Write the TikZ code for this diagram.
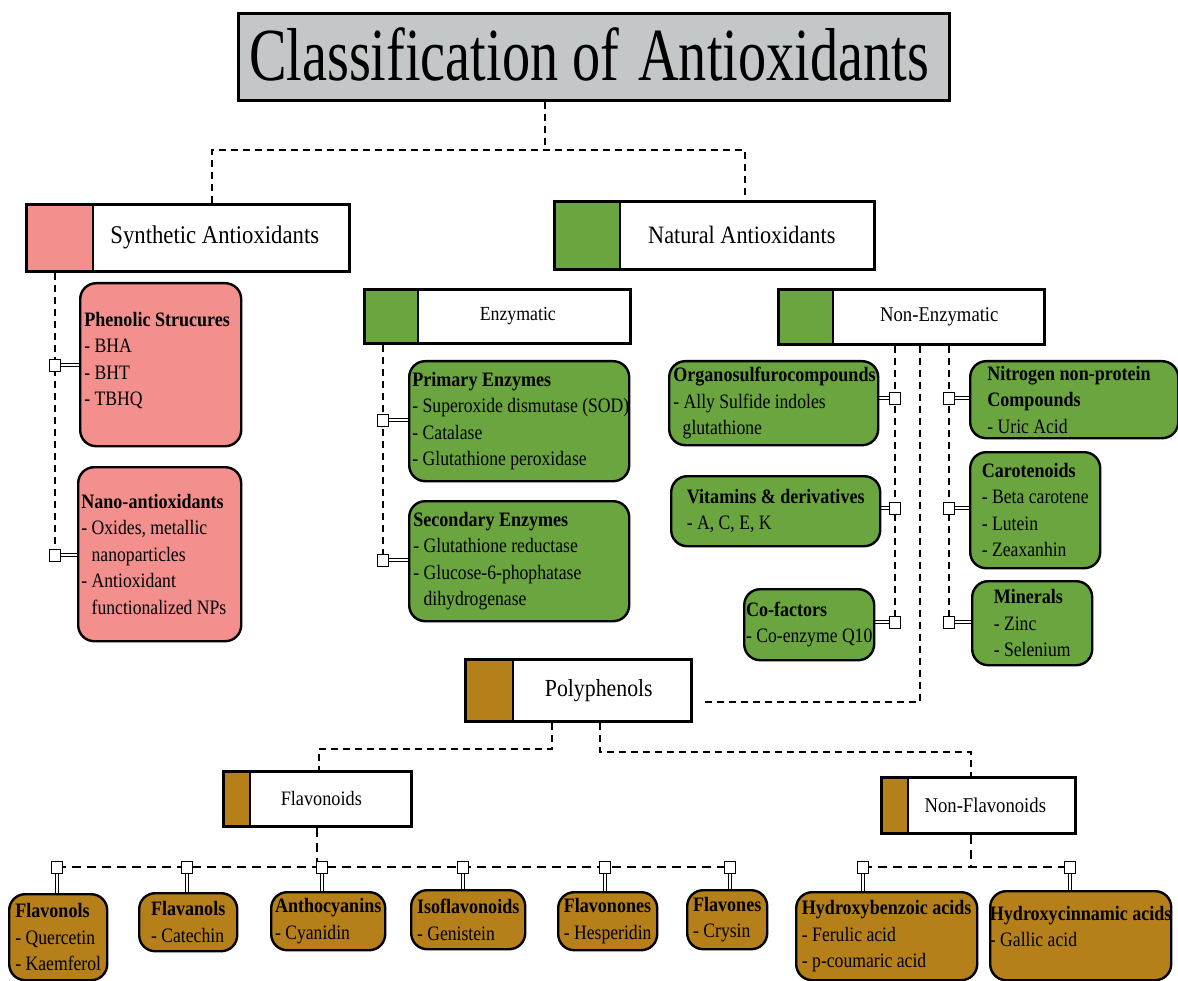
\documentclass[tikz,border=0pt]{standalone}
\usepackage{fontspec}
\setmainfont{Liberation Serif}[FakeStretch=0.86, BoldFeatures={FakeStretch=0.88}]
\newfontfamily\hdrfont{Liberation Serif}[FakeStretch=0.89]
\newfontfamily\titlefont{Liberation Serif}[FakeStretch=0.75]
\usetikzlibrary{calc,backgrounds}
\definecolor{pinkc}{HTML}{F38F8D}
\definecolor{greenc}{HTML}{6AA540}
\definecolor{brownc}{HTML}{B57F1A}
\definecolor{titlegray}{RGB}{196,199,200}
\tikzset{
 hbox/.style={draw=black, line width=2.6pt, fill=white, inner sep=0pt, anchor=north west},
 rbox/.style={draw=black, line width=2.4pt, rounded corners=16pt, inner sep=0pt, anchor=north west},
 rtext/.style={inner sep=0pt, align=left, font=\fontsize{20.5}{26.5}\selectfont},
 sq/.style={draw=black, fill=white, line width=0.8pt, minimum width=11pt, minimum height=12pt, inner sep=0pt},
 dsh/.style={line width=1.5pt, dash pattern=on 7pt off 5pt},
 dshb/.style={line width=2.2pt, dash pattern=on 9pt off 6pt},
 dbl/.style={double, double distance=1.8pt, line width=0.8pt},
 hsz/.style={font=\hdrfont\fontsize{#1}{#1}\selectfont},
}
% header box: name, colour, x1, y1, x2, y2, colour width, text options, text
\newcommand\hdr[9]{%
 \node[hbox, minimum width={#5-#3}, minimum height={#6-#4},
   path picture={\fill[#2] (path picture bounding box.north west) rectangle ([xshift=#7pt]path picture bounding box.south west);}] (#1) at (#3,#4) {};
 \draw[line width=2pt] ([xshift=#7pt]#1.north west) -- ([xshift=#7pt]#1.south west);
 \node[inner sep=0pt, #8] (#1t) at ([xshift={#7*0.5pt}]#1.center) {#9};
}
% rounded box: [text options], name, colour, x1, y1, x2, y2, text
\newcommand\rbx[8][]{%
 \node[rbox, fill=#3, minimum width={#6-#4}, minimum height={#7-#5}] (#2) at (#4,#5) {};
 \node[rtext, #1] (#2t) at (#2.center) {#8};
}
\begin{document}
\begin{tikzpicture}[x=1pt, y=-1pt]
\useasboundingbox (0,0) rectangle (1178,981);

% title
\node[draw=black, line width=2.6pt, fill=titlegray, minimum width=711, minimum height=87, anchor=north west, inner sep=0pt] (title) at (237,12) {};
\node[inner sep=0pt, font=\titlefont\fontsize{75}{75}\selectfont] (titlet) at (589,54) {Classification of\hspace{5pt} Antioxidants};

% headers
\hdr{syn}{pinkc}{25}{203}{348}{270}{68}{hsz=25.5, xshift=-7pt}{Synthetic Antioxidants}
\hdr{nat}{greenc}{553}{200}{873}{268}{67}{hsz=25, xshift=-6pt}{Natural Antioxidants}
\hdr{enz}{greenc}{363}{288}{629}{342}{55}{hsz=20, xshift=-7pt}{Enzymatic}
\hdr{nen}{greenc}{777}{288}{1043}{343}{56}{hsz=21}{Non-Enzymatic}
\hdr{poly}{brownc}{464}{658}{690}{720}{49}{hsz=24.5, xshift=-4pt}{Polyphenols}
\hdr{flav}{brownc}{222}{770}{410}{825}{28}{hsz=20.5, xshift=-10pt}{Flavonoids}
\hdr{nfl}{brownc}{880}{776}{1074}{832}{28}{hsz=21, xshift=-7pt}{Non-Flavonoids}

% synthetic
\rbx[anchor=west, xshift=-76.5pt, yshift=4pt]{phen}{pinkc}{79}{282}{240}{445}{\textbf{Phenolic Strucures}\\- BHA\\- BHT\\- TBHQ}
\rbx[anchor=west, xshift=-78.5pt]{nano}{pinkc}{77}{466}{240}{640}{\textbf{Nano-antioxidants}\\- Oxides, metallic\\\phantom{-\ }nanoparticles\\- Antioxidant\\\phantom{-\ }functionalized NPs}

% enzymatic
\rbx[anchor=west, xshift=-107pt]{prim}{greenc}{408}{360}{628}{480}{\textbf{Primary Enzymes}\\- Superoxide dismutase (SOD)\\- Catalase\\- Glutathione peroxidase}
\rbx[anchor=west, xshift=-106pt]{sec}{greenc}{408}{500}{628}{620}{\textbf{Secondary Enzymes}\\- Glutathione reductase\\- Glucose-6-phophatase\\\phantom{-\ }dihydrogenase}

% non-enzymatic
\rbx[anchor=west, xshift=-100.5pt]{org}{greenc}{668}{360}{877}{444}{\textbf{Organosulfurocompounds}\\- Ally Sulfide indoles\\\phantom{-}\,glutathione}
\rbx{vit}{greenc}{670}{475}{879}{545}{\textbf{Vitamins \& derivatives}\\- A, C, E, K}
\rbx{cof}{greenc}{743}{588}{873}{659}{\textbf{Co-factors}\\- Co-enzyme Q10}
\rbx[anchor=west, xshift=-87pt]{nit}{greenc}{969}{360}{1177}{437}{\textbf{Nitrogen non-protein}\\\textbf{Compounds}\\- Uric Acid}
\rbx{car}{greenc}{969}{451}{1099}{567}{\textbf{Carotenoids}\\- Beta carotene\\- Lutein\\- Zeaxanhin}
\rbx{min}{greenc}{971}{580}{1091}{664}{\textbf{Minerals}\\- Zinc\\- Selenium}

% polyphenol leaves
\rbx{fvnl}{brownc}{8}{893}{106}{979}{\textbf{Flavonols}\\- Quercetin\\- Kaemferol}
\rbx{fval}{brownc}{138}{892}{236}{950}{\textbf{Flavanols}\\- Catechin}
\rbx{anth}{brownc}{270}{891}{384}{949}{\textbf{Anthocyanins}\\- Cyanidin}
\rbx{isof}{brownc}{410}{889}{524}{948}{\textbf{Isoflavonoids}\\- Genistein}
\rbx{fnon}{brownc}{557}{891}{656}{949}{\textbf{Flavonones}\\- Hesperidin}
\rbx{fone}{brownc}{686}{889}{766}{948}{\textbf{Flavones}\\- Crysin}
\rbx{hben}{brownc}{795}{891}{976}{979}{\textbf{Hydroxybenzoic acids}\\- Ferulic acid\\- p-coumaric acid}
\rbx[yshift=9pt]{hcin}{brownc}{989}{890}{1170}{979}{\textbf{Hydroxycinnamic acids}\\- Gallic acid}

% squares
\node[sq] (s1) at (55,365) {};
\node[sq] (s2) at (55,555) {};
\node[sq] (e1) at (383,420) {};
\node[sq] (e2) at (383,560) {};
\node[sq] (n1) at (895,398) {};
\node[sq] (n2) at (895,508) {};
\node[sq] (n3) at (895,622) {};
\node[sq] (m1) at (949,398) {};
\node[sq] (m2) at (949,508) {};
\node[sq] (m3) at (949,622) {};
\node[sq] (f1) at (57,867) {};
\node[sq] (f2) at (187,867) {};
\node[sq] (f3) at (322,867) {};
\node[sq] (f4) at (463,867) {};
\node[sq] (f5) at (605,867) {};
\node[sq] (f6) at (730,867) {};
\node[sq] (g1) at (863,867) {};
\node[sq] (g2) at (1070,867) {};

\coordinate (jT) at (545,150);
\coordinate (jL) at (212,150);
\coordinate (jR) at (745,150);
\coordinate (jP) at (920,702);
\coordinate (pL) at (552,749);
\coordinate (pL2) at (319,749);
\coordinate (pR) at (600,752);
\coordinate (pR2) at (971,752);
\coordinate (fJ) at (317,867);
\coordinate (gJ) at (971,867);

\begin{scope}[on background layer]
 \draw[dsh] (title.south -| jT) -- (jT);
 \draw[dsh] (syn.north -| jL) -- (jL) -- (jR) -- (nat.north -| jR);
 \draw[dsh] (syn.south -| s2) -- (s2.center);
 \draw[dbl] (s1.east) -- (s1 -| phen.west);
 \draw[dbl] (s2.east) -- (s2 -| nano.west);
 \draw[dsh] (enz.south -| e2) -- (e2.center);
 \draw[dbl] (e1.east) -- (e1 -| prim.west);
 \draw[dbl] (e2.east) -- (e2 -| sec.west);
 \draw[dsh] (nen.south -| n3) -- (n3.center);
 \draw[dsh] (nen.south -| m3) -- (m3.center);
 \draw[dsh, shorten >=10pt] (nen.south -| jP) -- (jP) -- (poly.east |- jP);
 \draw[dbl] (n1.west) -- (n1 -| org.east);
 \draw[dbl] (n2.west) -- (n2 -| vit.east);
 \draw[dbl] (n3.west) -- (n3 -| cof.east);
 \draw[dbl] (m1.east) -- (m1 -| nit.west);
 \draw[dbl] (m2.east) -- (m2 -| car.west);
 \draw[dbl] (m3.east) -- (m3 -| min.west);
 \draw[dsh] (poly.south -| pL) -- (pL) -- (pL2) -- (flav.north -| pL2);
 \draw[dsh] (poly.south -| pR) -- (pR) -- (pR2) -- (nfl.north -| pR2);
 \draw[dshb] (flav.south -| fJ) -- (fJ);
 \draw[dshb] (f1.center) -- (f6.center);
 \draw[dshb] (nfl.south -| gJ) -- (gJ);
 \draw[dshb] (g1.center) -- (g2.center);
 \draw[dbl] (f1.south) -- (f1 |- fvnl.north);
 \draw[dbl] (f2.south) -- (f2 |- fval.north);
 \draw[dbl] (f3.south) -- (f3 |- anth.north);
 \draw[dbl] (f4.south) -- (f4 |- isof.north);
 \draw[dbl] (f5.south) -- (f5 |- fnon.north);
 \draw[dbl] (f6.south) -- (f6 |- fone.north);
 \draw[dbl] (g1.south) -- (g1 |- hben.north);
 \draw[dbl] (g2.south) -- (g2 |- hcin.north);
\end{scope}
\end{tikzpicture}
\end{document}
